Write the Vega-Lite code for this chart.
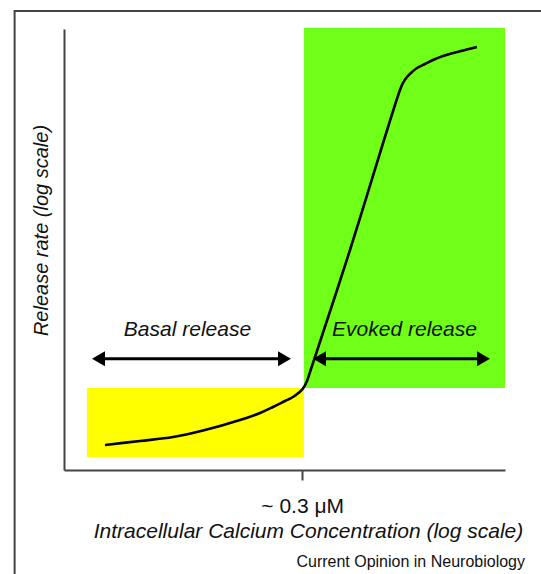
{
  "$schema": "https://vega.github.io/schema/vega-lite/v6.json",
  "width": 441,
  "height": 441,
  "autosize": {"type": "none"},
  "padding": {"left": 64, "top": 29, "right": 36, "bottom": 104},
  "background": "#ffffff",
  "config": {
    "view": {"stroke": null},
    "font": "Liberation Sans"
  },
  "title": {
    "text": "Current Opinion in Neurobiology",
    "orient": "bottom",
    "anchor": "end",
    "frame": "group",
    "baseline": "alphabetic",
    "dx": 20,
    "offset": -10,
    "fontSize": 16,
    "fontWeight": "normal",
    "color": "#111111",
    "font": "Liberation Sans"
  },
  "datasets": {
    "frame": [{"x": -11.2, "x2": 109, "y": 104.1, "y2": -24.1}],
    "zones": [
      {"zone": "Basal", "x": 5.2, "x2": 54.4, "y": 2.95, "y2": 18.6},
      {"zone": "Evoked", "x": 54.4, "x2": 100, "y": 18.6, "y2": 100.3}
    ],
    "curve": [
      {"ca": 9.30, "rate": 5.67},
      {"ca": 17.23, "rate": 6.58},
      {"ca": 24.72, "rate": 7.48},
      {"ca": 31.97, "rate": 9.07},
      {"ca": 39.91, "rate": 11.34},
      {"ca": 44.44, "rate": 12.93},
      {"ca": 47.39, "rate": 14.29},
      {"ca": 50.11, "rate": 15.65},
      {"ca": 51.93, "rate": 16.55},
      {"ca": 53.29, "rate": 17.57},
      {"ca": 54.20, "rate": 18.48},
      {"ca": 55.10, "rate": 20.18},
      {"ca": 56.01, "rate": 22.90},
      {"ca": 56.92, "rate": 25.62},
      {"ca": 64.85, "rate": 49.89},
      {"ca": 72.56, "rate": 74.83},
      {"ca": 76.19, "rate": 86.17},
      {"ca": 76.87, "rate": 87.76},
      {"ca": 77.78, "rate": 89.12},
      {"ca": 78.91, "rate": 90.25},
      {"ca": 80.05, "rate": 91.16},
      {"ca": 81.86, "rate": 92.06},
      {"ca": 83.67, "rate": 92.97},
      {"ca": 85.94, "rate": 93.88},
      {"ca": 88.21, "rate": 94.56},
      {"ca": 90.93, "rate": 95.24},
      {"ca": 93.65, "rate": 95.92}
    ],
    "arrows": [
      {"label": "Basal release", "from": 6.35, "to": 51.47, "y": 25.2, "textX": 28.0, "textY": 30.4},
      {"label": "Evoked release", "from": 56.46, "to": 96.6, "y": 25.2, "textX": 77.2, "textY": 30.4}
    ]
  },
  "layer": [
    {
      "data": {"name": "frame"},
      "mark": {"type": "rect", "fill": null, "stroke": "#444444", "strokeWidth": 2, "clip": false},
      "encoding": {
        "x": {"field": "x", "type": "quantitative", "scale": {"domain": [0, 100]}},
        "x2": {"field": "x2"},
        "y": {"field": "y", "type": "quantitative", "scale": {"domain": [0, 100]}},
        "y2": {"field": "y2"}
      }
    },
    {
      "data": {"name": "zones"},
      "mark": {"type": "rect", "clip": false},
      "encoding": {
        "x": {
          "field": "x",
          "type": "quantitative",
          "scale": {"domain": [0, 100], "nice": false, "zero": false},
          "axis": {
            "values": [54],
            "labelExpr": "'~ 0.3 \u03bcM'",
            "grid": false,
            "domainColor": "#444444",
            "domainWidth": 2,
            "tickColor": "#444444",
            "tickWidth": 2,
            "tickSize": 10,
            "labelFontSize": 21,
            "labelColor": "#111111",
            "labelBaseline": "alphabetic",
            "labelPadding": 32,
            "labelDx": 4,
            "title": "Intracellular Calcium Concentration (log scale)",
            "titleFontSize": 21,
            "titleFontStyle": "italic",
            "titleFontWeight": "normal",
            "titleColor": "#111111",
            "titleBaseline": "alphabetic",
            "titleX": 244,
            "titleY": 67
          }
        },
        "x2": {"field": "x2"},
        "y": {
          "field": "y",
          "type": "quantitative",
          "scale": {"domain": [0, 100], "nice": false, "zero": false},
          "axis": {
            "values": [],
            "ticks": false,
            "labels": false,
            "grid": false,
            "domainColor": "#444444",
            "domainWidth": 2,
            "title": "Release rate (log scale)",
            "titleFontSize": 20,
            "titleFontStyle": "italic",
            "titleFontWeight": "normal",
            "titleColor": "#111111",
            "titleBaseline": "alphabetic",
            "titleAngle": -90,
            "titleX": -17,
            "titleY": 201
          }
        },
        "y2": {"field": "y2"},
        "color": {
          "field": "zone",
          "type": "nominal",
          "scale": {"domain": ["Basal", "Evoked"], "range": ["#ffff00", "#6fff19"]},
          "legend": null
        }
      }
    },
    {
      "data": {"name": "curve"},
      "mark": {"type": "line", "interpolate": "catmull-rom", "color": "#000000", "strokeWidth": 2.6, "clip": false},
      "encoding": {
        "x": {"field": "ca", "type": "quantitative"},
        "y": {"field": "rate", "type": "quantitative"}
      }
    },
    {
      "data": {"name": "arrows"},
      "mark": {"type": "rule", "color": "#000000", "strokeWidth": 3, "xOffset": 6, "x2Offset": -6},
      "encoding": {
        "x": {"field": "from", "type": "quantitative"},
        "x2": {"field": "to"},
        "y": {"field": "y", "type": "quantitative"}
      }
    },
    {
      "data": {"name": "arrows"},
      "mark": {"type": "point", "shape": "triangle-left", "size": 225, "filled": true, "color": "#000000", "opacity": 1, "xOffset": 6.5},
      "encoding": {
        "x": {"field": "from", "type": "quantitative"},
        "y": {"field": "y", "type": "quantitative"}
      }
    },
    {
      "data": {"name": "arrows"},
      "mark": {"type": "point", "shape": "triangle-right", "size": 225, "filled": true, "color": "#000000", "opacity": 1, "xOffset": -6.5},
      "encoding": {
        "x": {"field": "to", "type": "quantitative"},
        "y": {"field": "y", "type": "quantitative"}
      }
    },
    {
      "data": {"name": "arrows"},
      "mark": {"type": "text", "fontSize": 21, "fontStyle": "italic", "color": "#111111", "align": "center", "baseline": "alphabetic"},
      "encoding": {
        "x": {"field": "textX", "type": "quantitative"},
        "y": {"field": "textY", "type": "quantitative"},
        "text": {"field": "label"}
      }
    }
  ]
}
